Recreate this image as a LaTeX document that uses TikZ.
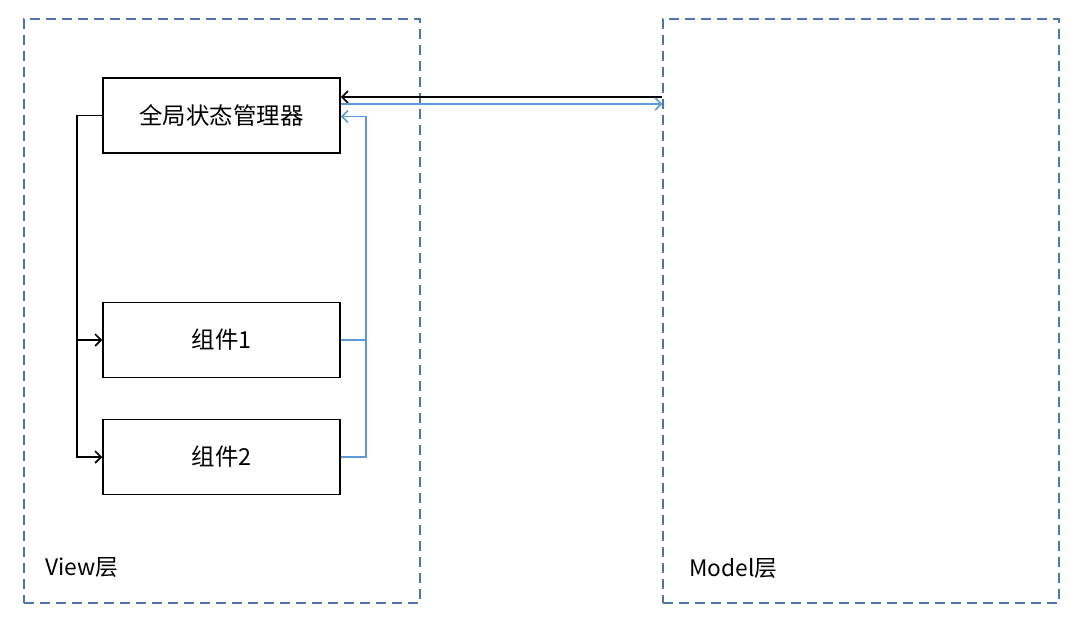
\documentclass[tikz,border=0pt]{standalone}
\usepackage{fontspec}
\setmainfont{Noto Sans CJK SC}
\usetikzlibrary{arrows.meta,positioning,calc}
\definecolor{layerblue}{HTML}{4A78AD}
\definecolor{flowblue}{HTML}{5B9BD8}
\tikzset{
  layer/.style = { draw=layerblue, line width=1.3bp, dash pattern=on 10bp off 6bp,
    minimum width=396bp, minimum height=584bp, inner sep=0pt },
  comp/.style  = { draw, line width=1.5bp, minimum width=237bp, minimum height=75bp,
    inner sep=0pt, font=\fontsize{23.5}{26}\selectfont },
  lbl/.style   = { anchor=west, inner sep=0pt, font=\fontsize{22.8}{25}\selectfont },
  ln/.style    = { line width=1.5bp },
  flow/.style  = { draw=flowblue, line width=1.5bp },
  tip/.style   = { -{Straight Barb[length=6bp,width=12bp,line width=1.6bp]} }
}
\begin{document}
\begin{tikzpicture}[x=1bp,y=-1bp,node distance=9mm,on grid]
  \useasboundingbox (0,0) rectangle (1080,624);
  % layers
  \node[layer] (view) at (222,311) {};
  \node[layer] (model) at (861,311) {};
  \node[lbl] (viewlbl) at (45,568) {View层};
  \node[lbl] (modellbl) at (689,568) {Model层};
  % components
  \node[comp] (mgr) at (221.5,115.5) {全局状态管理器};
  \node[comp, below=224.5bp of mgr] (c1) {组件1};
  \node[comp, below=117bp of c1] (c2) {组件2};
  % model <-> manager
  \coordinate (mgrin) at ($(mgr.east)+(0,-18.5)$);
  \coordinate (mgrout) at ($(mgr.east)+(0,-11.5)$);
  \draw[ln,tip] (model.west |- mgrin) -- (mgrin);
  \draw[flow,tip] (mgrout) -- (model.west |- mgrout);
  % manager -> components
  \draw[ln,tip] (mgr.west) -- ++(-25,0) coordinate (bus) |- (c2.west);
  \draw[ln,tip] (bus |- c1.west) -- (c1.west);
  % components -> manager
  \draw[flow] (c1.east) -- ++(25,0) coordinate (ret);
  \draw[flow,tip] (c2.east) -| (ret) |- ($(mgr.east)+(0,1)$);
\end{tikzpicture}
\end{document}
